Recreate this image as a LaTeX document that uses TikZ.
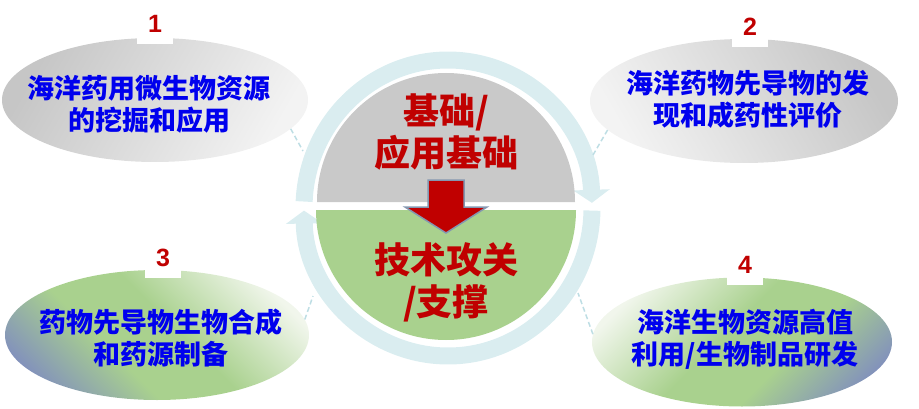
\documentclass[tikz,border=0pt]{standalone}
\usepackage{fontspec}
\setmainfont{Liberation Sans}
\newfontfamily\cjk{Noto Sans CJK SC}
\usetikzlibrary{shapes.geometric,arrows.meta}

\definecolor{ringcyan}{RGB}{218,237,240}
\definecolor{linkcyan}{RGB}{190,222,228}
\definecolor{basegray}{RGB}{201,201,201}
\definecolor{techgreen}{RGB}{169,209,142}
\definecolor{numred}{RGB}{192,0,0}
\definecolor{topicblue}{RGB}{0,0,238}
\definecolor{arrowedge}{RGB}{132,151,176}
\definecolor{palegray}{RGB}{243,243,243}
\definecolor{midgray}{RGB}{198,198,198}
\definecolor{palegreen}{RGB}{241,246,236}
\definecolor{slateblue}{RGB}{128,142,190}

\pgfdeclareverticalshading{leafshade}{100bp}{color(0bp)=(slateblue); color(22bp)=(slateblue); color(40bp)=(techgreen); color(54bp)=(techgreen); color(76bp)=(palegreen); color(100bp)=(palegreen)}

\tikzset{
  topic/.style={ellipse, inner sep=0pt},
  grayleft/.style={top color=midgray, bottom color=palegray, shading angle=60},
  grayright/.style={top color=midgray, bottom color=palegray, shading angle=-60},
  greenleft/.style={shading=leafshade, shading angle=-45},
  greenright/.style={shading=leafshade, shading angle=45},
  topictext/.style={align=center, text=topicblue, font=\cjk\bfseries\fontsize{27}{32}\selectfont},
  core/.style={align=center, text=numred, font=\cjk\bfseries\fontsize{36}{42}\selectfont},
  num/.style={fill=white, minimum width=36pt, minimum height=40pt, inner sep=0pt, text=numred, font=\bfseries\fontsize{25}{25}\selectfont},
  ringarc/.style={draw=ringcyan, line width=17pt, -{Triangle[width=36pt,length=13pt]}},
  link/.style={draw=linkcyan, line width=1.5pt, dash pattern=on 5pt off 3pt},
}

\begin{document}
\begin{tikzpicture}[x=1pt, y=1pt]
    \useasboundingbox (0,0) rectangle (919,408);

    % ring with two arrows
    \draw[ringarc] (448,200) ++(177.5:144pt and 148pt) arc[start angle=177.5, end angle=2, x radius=144pt, y radius=148pt];
    \draw[ringarc] (448,200) ++(-1:144pt and 148pt) arc[start angle=-1, end angle=-179, x radius=144pt, y radius=148pt];

    \fill[basegray] (317,206) arc[start angle=180, end angle=0, radius=129pt] -- cycle;
    \fill[techgreen] (316,198) arc[start angle=180, end angle=360, radius=130pt] -- cycle;
    \filldraw[fill=numred, draw=arrowedge, line width=1.5pt] (428,228) -- (464,228) -- (464,201) -- (487,201) -- (446,175) -- (405,201) -- (428,201) -- cycle;

    \node[core] (base) at (446,276) {基础/\\应用基础};
    \node[core] (tech) at (446,126) {技术攻关\\/支撑};

    \foreach \i\x\y\w\h\sty in {1/155/308/306/124/grayleft, 2/744/307/308/124/grayright, 3/157/73/304/130/greenleft, 4/742/66/300/129/greenright}{
        \node[topic, \sty, minimum width=\w, minimum height=\h] (e\i) at (\x,\y) {};
    }
    \foreach \i\x\y\txt in {1/149/304/{海洋药用微生物资源\\的挖掘和应用}, 2/748/309/{海洋药物先导物的发\\现和成药性评价}, 3/161/70/{药物先导物生物合成\\和药源制备}, 4/745/69/{海洋生物资源高值\\利用/生物制品研发}}{
        \node[topictext] (t\i) at (\x,\y) {\txt};
    }
    \foreach \i\a\x\y in {1/-12/303/257, 2/192/593/253, 3/6/313/112, 4/177/578/115}{
        \coordinate (r\i) at (\x,\y);
        \draw[link] (e\i.\a) -- (r\i);
    }
    \foreach \i\x\y in {1/155/364, 2/750/361, 3/163/130, 4/745/123}{
        \node[num, anchor=south] (n\i) at (\x,\y) {\i};
    }
\end{tikzpicture}
\end{document}
